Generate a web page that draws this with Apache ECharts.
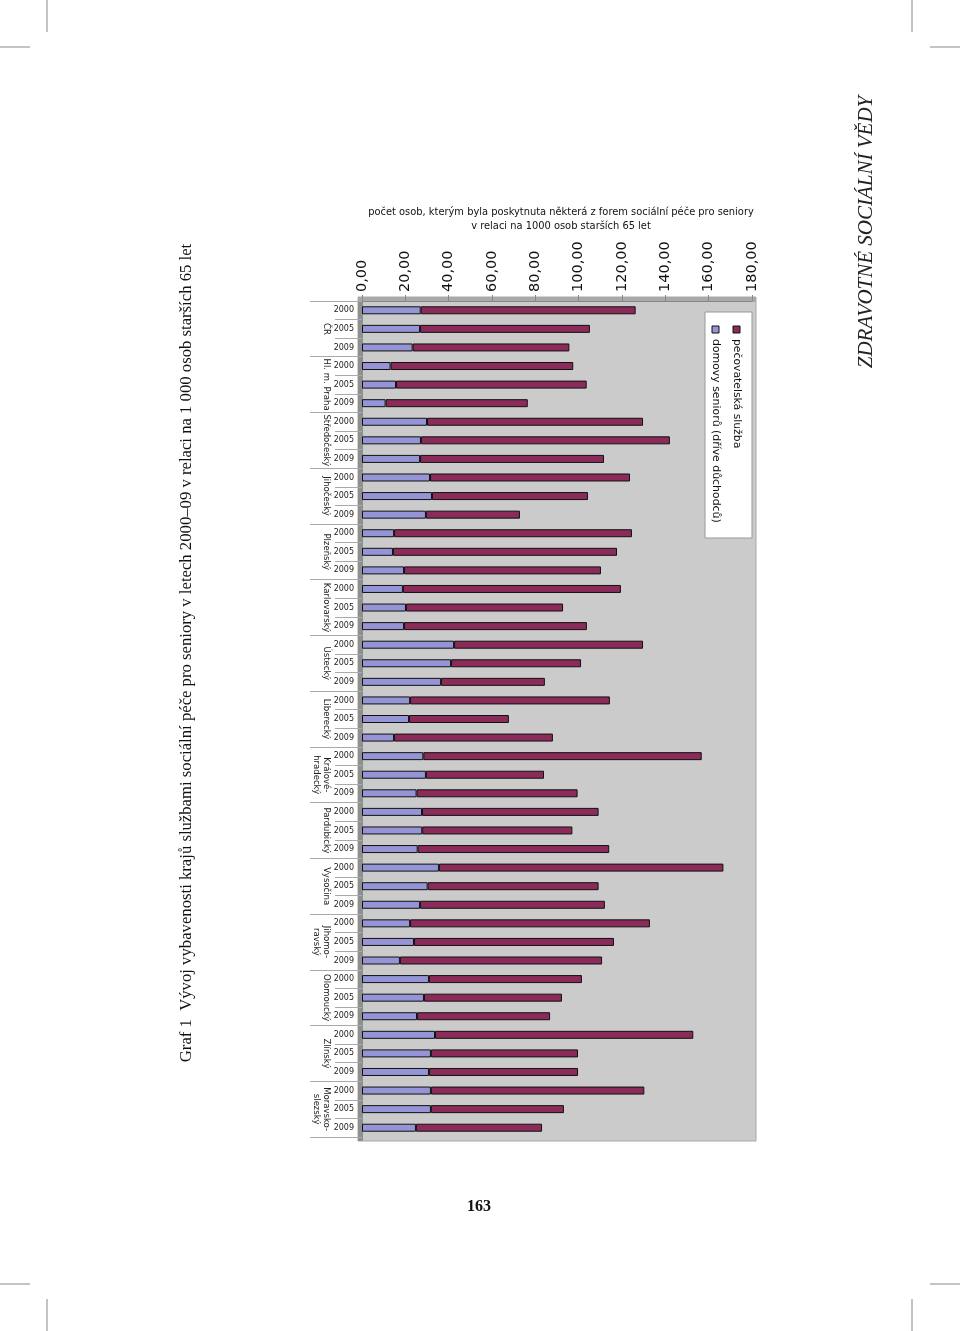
<!DOCTYPE html>
<html>
<head>
<meta charset="utf-8">
<script src="https://cdn.jsdelivr.net/npm/echarts@6/dist/echarts.min.js"></script>
<style>
html,body{margin:0;padding:0;background:#fff;}
#chart{width:960px;height:1331px;}
</style>
</head>
<body>
<div id="chart"></div>
<script>
const regions = ['ČR','Hl. m. Praha','Středočeský','Jihočeský','Plzeňský','Karlovarský','Ústecký','Liberecký','Králové-\nhradecký','Pardubický','Vysočina','Jihomo-\nravský','Olomoucký','Zlínský','Moravsko-\nslezský'];
const years = ['2000','2005','2009'];
const xTicks = [0,20,40,60,80,100,120,140,160,180];
// domovy seniorů (dříve důchodců)
const domovy = [27.1,26.8,23.4, 13.2,15.7,10.9, 30.0,27.2,26.8, 31.4,32.3,29.5, 14.8,14.3,19.4,
                18.9,20.3,19.4, 42.5,41.1,36.5, 22.2,21.7,14.8, 28.3,29.5,25.2, 27.7,27.8,25.7,
                35.5,30.3,26.8, 22.2,24.0,17.5, 30.9,28.6,25.4, 33.7,31.8,30.9, 31.8,31.8,24.9];
// pečovatelská služba
const pecovatelska = [99.2,78.4,72.3, 84.3,88.0,65.6, 99.7,114.9,84.9, 92.3,72.0,43.4, 109.8,103.4,90.9,
                      100.6,72.5,84.4, 87.2,60.0,47.9, 92.2,46.1,73.3, 128.5,54.5,74.3, 81.5,69.3,88.4,
                      131.3,78.9,85.3, 110.7,92.3,93.3, 70.6,63.7,61.4, 119.2,67.9,68.8, 98.5,61.4,58.2];

const cats = [];
regions.forEach(r => years.forEach(y => cats.push(r + '|' + y)));

const chart = echarts.init(document.getElementById('chart'));
const font = 'DejaVu Sans';
chart.setOption({
  backgroundColor: '#ffffff',
  animation: false,
  title: {
    text: 'počet osob, kterým byla poskytnuta některá z forem sociální péče pro seniory\nv relaci na 1000 osob starších 65 let',
    left: 556, top: 200, textAlign: 'center',
    textStyle: {fontFamily: font, fontSize: 9.9, fontWeight: 'normal', color: '#111', lineHeight: 14}
  },
  grid: {left: 362, top: 301, width: 390, height: 836, containLabel: false},
  xAxis: {
    type: 'value', position: 'top', min: 0, max: 180, interval: 20,
    axisLine: {show: true, lineStyle: {color: '#888', width: 1}},
    axisTick: {show: true, length: 6, lineStyle: {color: '#888'}},
    splitLine: {show: false},
    axisLabel: {rotate: -90, margin: 9, fontFamily: font, fontSize: 14.5, color: '#111',
      formatter: v => v.toFixed(2).replace('.', ',')}
  },
  yAxis: [
    {
      type: 'category', data: cats, inverse: true, position: 'left',
      axisLine: {show: true, lineStyle: {color: '#8f8f8f', width: 1}},
      axisTick: {show: true, length: 27, interval: 0, lineStyle: {color: '#aaa'}},
      axisLabel: {margin: 8, interval: 0, fontFamily: font, fontSize: 8, color: '#222', formatter: v => v.split('|')[1]}
    },
    {
      type: 'category', data: regions, inverse: true, position: 'left',
      axisLine: {show: false},
      axisTick: {show: true, length: 52, interval: 0, lineStyle: {color: '#aaa'}},
      axisLabel: {rotate: -90, margin: 31, interval: 0, fontFamily: font, fontSize: 8.5, color: '#222', lineHeight: 10}
    }
  ],
  series: [
    {
      name: 'domovy seniorů (dříve důchodců)', type: 'bar', stack: 'a', yAxisIndex: 0,
      data: domovy, barWidth: 8,
      itemStyle: {color: '#9494d6', borderColor: '#111', borderWidth: 1}
    },
    {
      name: 'pečovatelská služba', type: 'bar', stack: 'a', yAxisIndex: 0,
      data: pecovatelska, barWidth: 8,
      itemStyle: {color: '#8b2b5a', borderColor: '#111', borderWidth: 1}
    }
  ],
  graphic: [
    // plot background / 3D walls
    {type: 'rect', z: -10, shape: {x: 358, y: 297, width: 398, height: 844}, style: {fill: '#cbcbcb', stroke: '#a8a8a8', lineWidth: 1}},
    {type: 'rect', z: -9, shape: {x: 358, y: 297, width: 5, height: 844}, style: {fill: '#8f8f8f'}},
    {type: 'rect', z: -9, shape: {x: 358, y: 297, width: 398, height: 5}, style: {fill: '#a9a9a9'}},
    // legend
    {type: 'rect', z: 5, shape: {x: 705, y: 312, width: 47, height: 226}, style: {fill: '#ffffff', stroke: '#999', lineWidth: 1}},
    {type: 'rect', z: 6, shape: {x: 733, y: 326, width: 7, height: 7}, style: {fill: '#8b2b5a', stroke: '#111', lineWidth: 1}},
    {type: 'rect', z: 6, shape: {x: 712, y: 326, width: 7, height: 7}, style: {fill: '#9494d6', stroke: '#111', lineWidth: 1}},
    {type: 'text', z: 6, x: 737, y: 339, rotation: -Math.PI/2,
      style: {text: 'pečovatelská služba', fontFamily: font, fontSize: 10.8, fill: '#111', textAlign: 'left', textVerticalAlign: 'middle'}},
    {type: 'text', z: 6, x: 716, y: 339, rotation: -Math.PI/2,
      style: {text: 'domovy seniorů (dříve důchodců)', fontFamily: font, fontSize: 10.9, fill: '#111', textAlign: 'left', textVerticalAlign: 'middle'}},
    // page texts
    {type: 'text', x: 187, y: 653, rotation: Math.PI/2,
      style: {text: 'Graf 1  Vývoj vybavenosti krajů službami sociální péče pro seniory v letech 2000–09 v relaci na 1 000 osob starších 65 let',
        fontFamily: 'Liberation Serif', fontSize: 16.7, fill: '#111', textAlign: 'center', textVerticalAlign: 'middle'}},
    {type: 'text', x: 866, y: 232, rotation: Math.PI/2,
      style: {text: 'ZDRAVOTNÉ SOCIÁLNÍ VĚDY', fontFamily: 'Liberation Serif', fontStyle: 'italic', fontSize: 21, fill: '#222', textAlign: 'center', textVerticalAlign: 'middle'}},
    {type: 'text', x: 479, y: 1207,
      style: {text: '163', fontFamily: 'Liberation Serif', fontWeight: 'bold', fontSize: 16, fill: '#111', textAlign: 'center', textVerticalAlign: 'middle'}},
    // crop marks
    {type: 'line', shape: {x1: 47, y1: 0, x2: 47, y2: 32}, style: {stroke: '#888', lineWidth: 1}},
    {type: 'line', shape: {x1: 0, y1: 47, x2: 30, y2: 47}, style: {stroke: '#888', lineWidth: 1}},
    {type: 'line', shape: {x1: 912, y1: 0, x2: 912, y2: 32}, style: {stroke: '#888', lineWidth: 1}},
    {type: 'line', shape: {x1: 930, y1: 47, x2: 960, y2: 47}, style: {stroke: '#888', lineWidth: 1}},
    {type: 'line', shape: {x1: 47, y1: 1299, x2: 47, y2: 1331}, style: {stroke: '#888', lineWidth: 1}},
    {type: 'line', shape: {x1: 0, y1: 1284, x2: 30, y2: 1284}, style: {stroke: '#888', lineWidth: 1}},
    {type: 'line', shape: {x1: 912, y1: 1299, x2: 912, y2: 1331}, style: {stroke: '#888', lineWidth: 1}},
    {type: 'line', shape: {x1: 930, y1: 1284, x2: 960, y2: 1284}, style: {stroke: '#888', lineWidth: 1}}
  ]
});
</script>
</body>
</html>
